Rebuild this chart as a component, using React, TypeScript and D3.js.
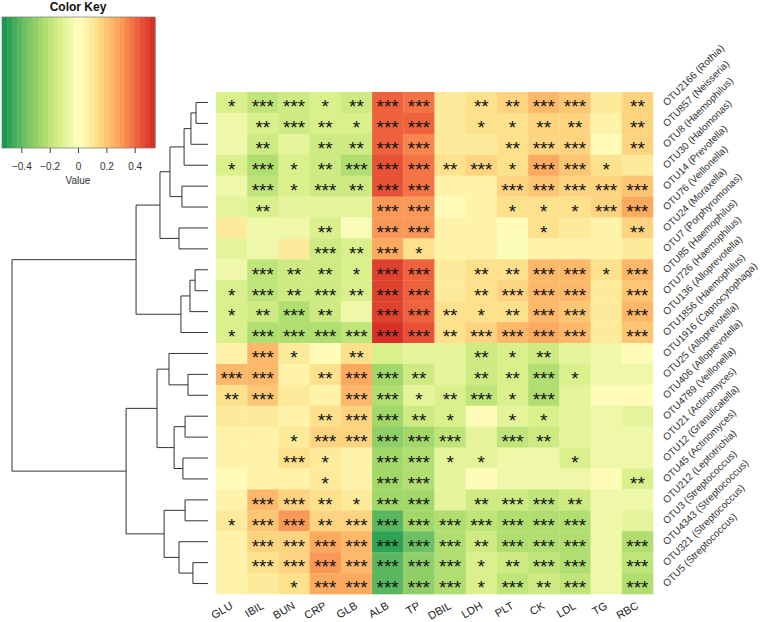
import React from "react";
import * as d3 from "d3";

const colLabels = ["GLU","IBIL","BUN","CRP","GLB","ALB","TP","DBIL","LDH","PLT","CK","LDL","TG","RBC"];

const rowLabels = [
  "OTU2166 (Rothia)","OTU857 (Neisseria)","OTU8 (Haemophilus)","OTU30 (Halomonas)",
  "OTU14 (Prevotella)","OTU76 (Veillonella)","OTU24 (Moraxella)","OTU7 (Porphyromonas)",
  "OTU85 (Haemophilus)","OTU726 (Haemophilus)","OTU136 (Alloprevotella)","OTU1856 (Haemophilus)",
  "OTU1916 (Capnocytophaga)","OTU25 (Alloprevotella)","OTU406 (Alloprevotella)","OTU4789 (Veillonella)",
  "OTU21 (Actinomyces)","OTU12 (Granulicatella)","OTU45 (Actinomyces)","OTU212 (Leptotrichia)",
  "OTU3 (Streptococcus)","OTU4343 (Streptococcus)","OTU321 (Streptococcus)","OTU5 (Streptococcus)"
];

// correlation values, one row per OTU, columns in colLabels order
const values = [
  [-0.13,-0.20,-0.18,-0.13,-0.15,0.42,0.38,0.08,0.14,0.15,0.22,0.20,0.08,0.17],
  [-0.06,-0.14,-0.17,-0.14,-0.12,0.43,0.40,0.08,0.12,0.12,0.15,0.15,0.07,0.16],
  [-0.06,-0.15,-0.08,-0.15,-0.15,0.42,0.36,0.08,0.09,0.14,0.18,0.18,0.03,0.16],
  [-0.12,-0.22,-0.12,-0.15,-0.24,0.45,0.38,0.14,0.16,0.12,0.26,0.20,0.12,0.09],
  [-0.07,-0.20,-0.12,-0.18,-0.15,0.46,0.38,0.06,0.07,0.18,0.20,0.18,0.17,0.19],
  [-0.10,-0.14,-0.09,-0.10,-0.10,0.32,0.30,0.03,0.07,0.12,0.12,0.12,0.17,0.28],
  [0.10,-0.06,-0.05,-0.14,-0.01,0.32,0.30,0.05,0.06,0.03,0.12,0.08,0.06,0.15],
  [-0.08,-0.07,0.08,-0.16,-0.12,0.28,0.13,0.07,0.06,-0.03,0.05,0.06,0.06,0.08],
  [-0.05,-0.20,-0.15,-0.15,-0.12,0.50,0.42,0.10,0.14,0.14,0.24,0.22,0.12,0.25],
  [-0.12,-0.20,-0.15,-0.18,-0.14,0.50,0.43,0.10,0.14,0.18,0.24,0.22,0.08,0.20],
  [-0.12,-0.15,-0.24,-0.15,-0.06,0.50,0.42,0.13,0.12,0.14,0.22,0.20,0.08,0.25],
  [-0.13,-0.24,-0.24,-0.22,-0.20,0.55,0.46,0.14,0.18,0.22,0.28,0.24,0.08,0.20],
  [0.05,0.22,0.10,0.02,0.14,-0.12,-0.10,-0.08,-0.15,-0.12,-0.15,-0.08,-0.05,0.00],
  [0.22,0.22,0.06,0.12,0.28,-0.28,-0.16,-0.08,-0.15,-0.14,-0.22,-0.12,-0.05,-0.06],
  [0.12,0.20,0.08,0.06,0.25,-0.24,-0.10,-0.14,-0.20,-0.12,-0.22,-0.08,0.00,0.03],
  [0.08,0.08,0.05,0.12,0.18,-0.28,-0.16,-0.12,0.00,-0.10,-0.12,-0.08,-0.06,-0.08],
  [0.06,0.07,0.08,0.15,0.18,-0.32,-0.26,-0.20,-0.08,-0.20,-0.15,-0.08,-0.04,-0.07],
  [0.06,0.06,0.12,0.08,0.04,-0.28,-0.24,-0.10,-0.10,-0.07,-0.07,-0.12,-0.04,-0.05],
  [0.03,0.04,0.06,0.08,0.06,-0.28,-0.24,-0.08,0.02,-0.07,-0.06,-0.04,0.00,-0.14],
  [0.06,0.24,0.16,0.14,0.10,-0.28,-0.26,-0.10,-0.15,-0.18,-0.20,-0.15,-0.05,-0.06],
  [0.10,0.20,0.30,0.15,0.16,-0.40,-0.28,-0.24,-0.20,-0.22,-0.24,-0.22,-0.06,-0.08],
  [0.06,0.16,0.18,0.28,0.25,-0.50,-0.38,-0.22,-0.15,-0.22,-0.24,-0.22,-0.05,-0.24],
  [0.05,0.14,0.16,0.30,0.22,-0.40,-0.32,-0.22,-0.12,-0.15,-0.20,-0.22,-0.06,-0.20],
  [0.04,0.08,0.12,0.28,0.26,-0.42,-0.32,-0.22,-0.13,-0.20,-0.16,-0.20,-0.04,-0.22]
];

// number of significance stars per cell (one digit per column)
const stars = [
  "13312330223302","02321330112202","02022330023302","13123332313310",
  "03132330033333","02000330011133","00020330001002","00032310000000",
  "03221330223313","13232330233303","12320332123303","13333332333303",
  "03102000212000","33023320223100","23003312313000","00023321011000",
  "00133333032000","00310331100100","00010330000002","03321330233200",
  "13323333333300","03333333233303","03333333123303","00133333132303"
];

// row dendrogram merges: [left, right, height]; negative = leaf (1-based row), positive = earlier merge
const merges: [number, number, number][] = [
  [-1,-2,0.061],[1,-3,0.087],[2,-4,0.122],[-5,-6,0.133],[3,4,0.194],[-7,-8,0.148],
  [5,6,0.245],[-9,-10,0.066],[8,-11,0.092],[9,-12,0.138],[7,10,0.367],[-14,-15,0.102],
  [-13,12,0.199],[-16,-17,0.117],[-18,-19,0.128],[14,15,0.173],[13,16,0.260],[-20,-21,0.117],
  [-23,-24,0.077],[-22,19,0.148],[18,20,0.224],[17,21,0.418],[11,22,1.0]
];

const keyTicks = [-0.4,-0.2,0,0.2,0.4];
const palette = ["#1a9850","#66bd63","#a6d96a","#d9ef8b","#ffffbf","#fee08b","#fdae61","#f46d43","#d73027"];
const vMin = -0.54, vMax = 0.54, nBands = 30;

const FONT = "'Liberation Sans', Arial, Helvetica, sans-serif";

export default function App() {
  const W = 767, H = 622;
  const x = d3.scaleBand<string>().domain(colLabels).range([216, 653]);
  const y = d3.scaleBand<string>().domain(rowLabels).range([92, 594]);
  const dx = d3.scaleLinear().domain([0, 1]).range([208, 12]);

  const interp = d3.scaleLinear<string>()
    .domain(palette.map((_, i) => vMin + (i * (vMax - vMin)) / (palette.length - 1)))
    .range(palette)
    .interpolate(d3.interpolateRgb);
  const bandColors = d3.range(nBands).map(i => interp(vMin + (i * (vMax - vMin)) / (nBands - 1)));
  const color = d3.scaleQuantize<string>().domain([vMin, vMax]).range(bandColors);

  const keyX = d3.scaleLinear().domain([vMin, vMax]).range([2, 155]);
  const keyTop = 17, keyBot = 148;

  // dendrogram geometry
  const nodePos: { y: number; h: number }[] = [];
  const lines: string[] = [];
  const pos = (id: number) => {
    if (id < 0) {
      const lab = rowLabels[-id - 1];
      return { y: (y(lab) as number) + y.bandwidth() / 2, h: 0 };
    }
    return nodePos[id - 1];
  };
  merges.forEach(([a, b, h]) => {
    const pa = pos(a), pb = pos(b);
    const xh = dx(h);
    lines.push(`M${dx(pa.h)},${pa.y}H${xh}V${pb.y}H${dx(pb.h)}`);
    nodePos.push({ y: (pa.y + pb.y) / 2, h });
  });

  const fs = 19;

  return (
    <svg width={W} height={H} style={{ position: "absolute", left: 0, top: 0, background: "#fff" }} fontFamily={FONT}>
      <rect width={W} height={H} fill="#fff" />
      {/* Color key */}
      <text x={78} y={11} textAnchor="middle" fontSize={12} fontWeight="bold" fill="#111">Color Key</text>
      {bandColors.map((c, i) => {
        const bw = (155 - 2) / nBands;
        return <rect key={i} x={2 + i * bw} y={keyTop} width={bw + 0.5} height={keyBot - keyTop} fill={c} />;
      })}
      <rect x={2} y={keyTop} width={153} height={keyBot - keyTop} fill="none" stroke="#777" strokeWidth={0.7} />
      {keyTicks.map(t => (
        <g key={t}>
          <line x1={keyX(t)} x2={keyX(t)} y1={keyBot} y2={keyBot + 5} stroke="#444" strokeWidth={1} />
          <text x={keyX(t)} y={170} textAnchor="middle" fontSize={10} fill="#333">
            {t === 0 ? "0" : (t < 0 ? "\u2212" : "") + Math.abs(t).toString()}
          </text>
        </g>
      ))}
      <text x={78} y={184} textAnchor="middle" fontSize={10} fill="#333">Value</text>

      {/* Dendrogram */}
      {lines.map((d, i) => <path key={i} d={d} fill="none" stroke="#333" strokeWidth={1} />)}

      {/* Heatmap cells */}
      {rowLabels.map((r, i) =>
        colLabels.map((c, j) => (
          <rect key={r + c} x={x(c)} y={y(r)} width={x.bandwidth() + 0.3} height={y.bandwidth() + 0.3}
            fill={color(values[i][j])} />
        ))
      )}
      {/* Stars */}
      {rowLabels.map((r, i) =>
        colLabels.map((c, j) => {
          const n = +stars[i][j];
          if (!n) return null;
          return (
            <text key={"s" + r + c} x={(x(c) as number) + x.bandwidth() / 2}
              y={(y(r) as number) + y.bandwidth() / 2 + 0.57 * fs}
              textAnchor="middle" fontSize={fs} fill="#111">{"*".repeat(n)}</text>
          );
        })
      )}

      {/* Row labels */}
      {rowLabels.map(r => {
        const ax = 667, ay = (y(r) as number) + y.bandwidth() / 2 + 4;
        return (
          <text key={"r" + r} x={ax} y={ay} transform={`rotate(-45,${ax},${ay})`} fontSize={10} fill="#333">{r}</text>
        );
      })}
      {/* Column labels */}
      {colLabels.map(c => {
        const ax = (x(c) as number) + x.bandwidth() / 2 - 2, ay = 601;
        return (
          <text key={"c" + c} x={ax} y={ay} dy="0.72em" textAnchor="end"
            transform={`rotate(-30,${ax},${ay})`} fontSize={11} fill="#222">{c}</text>
        );
      })}
    </svg>
  );
}
